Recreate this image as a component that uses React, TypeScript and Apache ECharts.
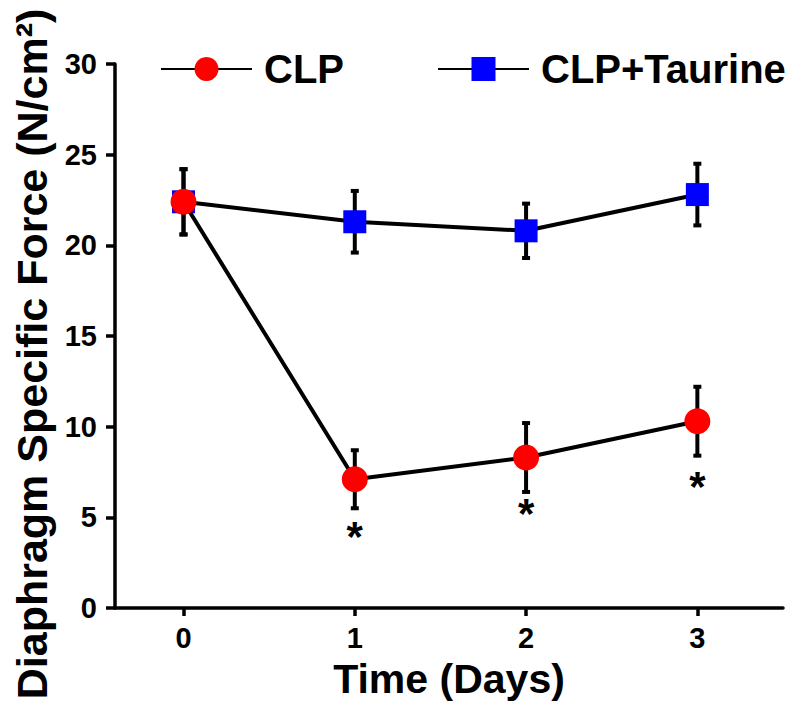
import React, { useEffect, useRef } from "react";
import * as echarts from "echarts";

const days = [0, 1, 2, 3];
const clpMean = [22.4, 7.1, 8.3, 10.3];
const clpErr = [1.8, 1.6, 1.9, 1.9];
const taurineMean = [22.4, 21.3, 20.8, 22.8];
const taurineErr = [1.8, 1.7, 1.5, 1.7];
const starY = [null, 3.95, 5.2, 6.7];
const yTicks = [0, 5, 10, 15, 20, 25, 30];

const FONT = "'Liberation Sans', Arial, sans-serif";
const tickRich = {
  t: { fontFamily: FONT, fontWeight: "bold", fontSize: 29, color: "#000" },
};

function errData(mean: number[], err: number[]) {
  return days.map((d, i) => [d, mean[i] - err[i], mean[i] + err[i]]);
}

function errRender(params: any, api: any) {
  const x = api.value(0);
  const lo = api.coord([x, api.value(1)]);
  const hi = api.coord([x, api.value(2)]);
  const cap = 4;
  const style = { stroke: "#000", lineWidth: 4 };
  return {
    type: "group",
    children: [
      { type: "line", shape: { x1: lo[0], y1: lo[1], x2: hi[0], y2: hi[1] }, style },
      { type: "line", shape: { x1: hi[0] - cap, y1: hi[1], x2: hi[0] + cap, y2: hi[1] }, style },
      { type: "line", shape: { x1: lo[0] - cap, y1: lo[1], x2: lo[0] + cap, y2: lo[1] }, style },
    ],
  };
}

export default function App() {
  const ref = useRef<HTMLDivElement>(null);
  useEffect(() => {
    if (!ref.current) return;
    const chart = echarts.init(ref.current, null, { renderer: "svg" });
    chart.setOption({
      animation: false,
      backgroundColor: "#fff",
      textStyle: { fontFamily: FONT },
      grid: { left: 115, right: 17, top: 64, bottom: 108 },
      legend: {
        left: 160,
        top: 49,
        padding: 0,
        itemWidth: 91,
        itemHeight: 30,
        itemGap: 93,
        data: ["CLP", "CLP+Taurine"],
        textStyle: {
          fontFamily: FONT,
          fontWeight: "bold",
          fontSize: 40,
          color: "#000",
          padding: [0, 0, 0, 7],
        },
      },
      xAxis: {
        type: "value",
        min: -0.4,
        max: 3.5,
        name: "Time (Days)",
        nameLocation: "middle",
        nameGap: 50,
        nameTextStyle: { fontFamily: FONT, fontWeight: "bold", fontSize: 41, color: "#000" },
        axisLine: { show: true, onZero: false, lineStyle: { color: "#000", width: 3.5 } },
        axisTick: { show: true, length: 8, lineStyle: { color: "#000", width: 3.5 }, customValues: days },
        axisLabel: {
          customValues: days,
          fontFamily: FONT,
          fontWeight: "bold",
          fontSize: 29,
          color: "#000",
          margin: 15,
          formatter: (v: number) => `{t|${v}}`,
          rich: tickRich,
        },
        splitLine: { show: false },
      },
      yAxis: {
        type: "value",
        min: 0,
        max: 30,
        interval: 5,
        name: "Diaphragm Specific Force (N/cm²)",
        nameLocation: "middle",
        nameGap: 58,
        nameRotate: 90,
        nameTextStyle: {
          fontFamily: FONT,
          fontWeight: "bold",
          fontSize: 43,
          color: "#000",
          padding: [0, 36, 0, 0],
        },
        axisLine: { show: true, onZero: false, lineStyle: { color: "#000", width: 3.5 } },
        axisTick: { show: true, length: 9, lineStyle: { color: "#000", width: 3.5 } },
        axisLabel: {
          fontFamily: FONT,
          fontWeight: "bold",
          fontSize: 29,
          color: "#000",
          margin: 18,
          formatter: (v: number) => (yTicks.includes(v) ? `{t|${v}}` : ""),
          rich: tickRich,
        },
        splitLine: { show: false },
      },
      series: [
        {
          type: "custom",
          name: "taurineErr",
          renderItem: errRender,
          data: errData(taurineMean, taurineErr),
          z: 1,
          silent: true,
        },
        {
          type: "line",
          name: "CLP+Taurine",
          data: days.map((d, i) => [d, taurineMean[i]]),
          symbol: "rect",
          symbolSize: 23,
          lineStyle: { color: "#000", width: 4 },
          itemStyle: { color: "#0000ff" },
          z: 2,
        },
        {
          type: "custom",
          name: "clpErr",
          renderItem: errRender,
          data: errData(clpMean, clpErr),
          z: 3,
          silent: true,
        },
        {
          type: "line",
          name: "CLP",
          data: days.map((d, i) => [d, clpMean[i]]),
          symbol: "circle",
          symbolSize: 26,
          lineStyle: { color: "#000", width: 4 },
          itemStyle: { color: "#ff0000" },
          z: 4,
        },
        {
          type: "custom",
          name: "stars",
          data: days.map((d, i) => [d, starY[i]]).filter((p) => p[1] !== null),
          renderItem: (params: any, api: any) => {
            const p = api.coord([api.value(0), api.value(1)]);
            return {
              type: "text",
              x: p[0],
              y: p[1],
              style: {
                text: "*",
                fontFamily: FONT,
                fontWeight: "bold",
                fontSize: 42,
                fill: "#000",
                align: "center",
                verticalAlign: "middle",
              },
            };
          },
          z: 5,
          silent: true,
        },
      ],
    });
    return () => chart.dispose();
  }, []);
  return <div ref={ref} style={{ width: 800, height: 716, position: "absolute", left: 0, top: 0 }} />;
}
